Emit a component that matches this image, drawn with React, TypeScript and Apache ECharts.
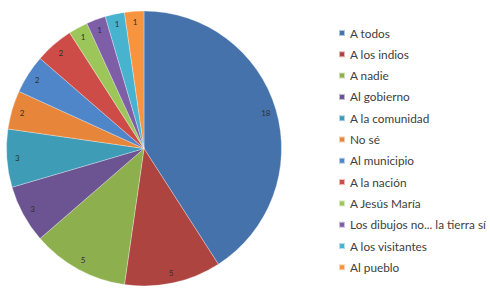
import React, { useEffect, useRef } from "react";
import * as echarts from "echarts";

const categories = [
  "A todos",
  "A los indios",
  "A nadie",
  "Al gobierno",
  "A la comunidad",
  "No sé",
  "Al municipio",
  "A la nación",
  "A Jesús María",
  "Los dibujos no... la tierra sí",
  "A los visitantes",
  "Al pueblo",
];
const values = [18, 5, 5, 3, 3, 2, 2, 2, 1, 1, 1, 1];
const colors = [
  "#4572AB",
  "#AE443F",
  "#8DAF4E",
  "#6C5391",
  "#3F9CB6",
  "#E7863A",
  "#4F86CA",
  "#CE4C48",
  "#9CC65A",
  "#7E5EA6",
  "#47B3CF",
  "#F6943F",
];

export default function App() {
  const ref = useRef<HTMLDivElement>(null);
  useEffect(() => {
    if (!ref.current) return;
    const chart = echarts.init(ref.current, undefined, { renderer: "svg" });
    const data = categories.map((name, i) => ({
      name,
      value: values[i],
      itemStyle: { color: colors[i] },
    }));
    chart.setOption({
      animation: false,
      backgroundColor: "#ffffff",
      legend: {
        orient: "vertical",
        left: 333,
        top: 22,
        padding: 5,
        itemWidth: 6,
        itemHeight: 6,
        itemGap: 9.3,
        icon: "rect",
        selectedMode: false,
        data: categories,
        textStyle: {
          fontFamily: "Lato",
          fontSize: 11.8,
          lineHeight: 12,
          color: "#404040",
        },
      },
      series: [
        {
          type: "pie",
          center: [144, 148.5],
          radius: [0, 137.5],
          startAngle: 90,
          clockwise: true,
          silent: true,
          itemStyle: { borderColor: "rgba(255,255,255,0.6)", borderWidth: 0.5 },
          label: { show: false },
          labelLine: { show: false },
          data,
        },
        {
          type: "pie",
          center: [144, 148.5],
          radius: [116, 132],
          startAngle: 90,
          clockwise: true,
          silent: true,
          legendHoverLink: false,
          itemStyle: { color: "rgba(0,0,0,0)", borderWidth: 0 },
          label: {
            show: true,
            position: "inside",
            formatter: "{c}",
            fontFamily: "Lato",
            fontSize: 8,
            color: "#303030",
          },
          labelLine: { show: false },
          data: categories.map((name, i) => ({ name: name + " ", value: values[i] })),
        },
      ],
    });
    return () => chart.dispose();
  }, []);
  return (
    <div
      ref={ref}
      style={{ position: "fixed", left: 0, top: 0, width: 490, height: 288 }}
    />
  );
}
